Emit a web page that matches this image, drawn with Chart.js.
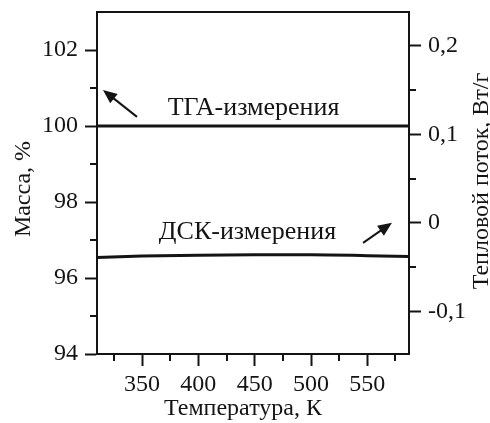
<!DOCTYPE html>
<html>
<head>
<meta charset="utf-8">
<script src="https://cdn.jsdelivr.net/npm/chart.js@4"></script>
<style>
html,body{margin:0;padding:0;background:#fff;}
canvas{display:block;}
</style>
</head>
<body>
<canvas id="c" width="490" height="423" style="width:490px;height:423px"></canvas>
<script>
// ---- data ----
const temperatures = [310, 350, 400, 450, 500, 550, 587];
const tgaMass      = [100, 100, 100, 100, 100, 100, 100];
const dscHeatFlow  = [-0.039, -0.0375, -0.0365, -0.036, -0.036, -0.037, -0.038];

const xTicks      = [350, 400, 450, 500, 550];
const xMinorTicks = [325, 375, 425, 475, 525, 575];
const massTicks      = [94, 96, 98, 100, 102];
const massMinorTicks = [95, 97, 99, 101];
const flowTicks      = [-0.1, 0, 0.1, 0.2];
const flowMinorTicks = [-0.05, 0.05, 0.15];

const xTitle = 'Температура, К';
const massTitle = 'Масса, %';
const flowTitle = 'Тепловой поток, Вт/г';
const tgaLabel = 'ТГА-измерения';
const dscLabel = 'ДСК-измерения';

// ---- drawing ----
const FONT = '"Liberation Serif", "Times New Roman", serif';
const INK = '#141414';

const tgaPoints = temperatures.map((t, i) => ({x: t, y: tgaMass[i]}));
const dscPoints = temperatures.map((t, i) => ({x: t, y: dscHeatFlow[i]}));

function fmtComma(v) {
  return String(Math.round(v * 1000) / 1000).replace('.', ',');
}

const decorPlugin = {
  id: 'decor',
  afterDraw(chart, args, opts) {
    const ctx = chart.ctx;
    const a = chart.chartArea;
    const sx = chart.scales.x, sy = chart.scales.y, sy2 = chart.scales.y2;
    ctx.save();
    ctx.strokeStyle = INK;
    ctx.fillStyle = INK;
    ctx.lineWidth = 2;
    // top border
    ctx.beginPath();
    ctx.moveTo(a.left - 1, a.top);
    ctx.lineTo(a.right + 1, a.top);
    ctx.stroke();
    // minor ticks
    const ml = opts.minorLen;
    ctx.beginPath();
    xMinorTicks.forEach(v => { const p = Math.round(sx.getPixelForValue(v)); ctx.moveTo(p, a.bottom); ctx.lineTo(p, a.bottom + ml); });
    massMinorTicks.forEach(v => { const p = Math.round(sy.getPixelForValue(v)); ctx.moveTo(a.left, p); ctx.lineTo(a.left - ml, p); });
    flowMinorTicks.forEach(v => { const p = Math.round(sy2.getPixelForValue(v)); ctx.moveTo(a.right, p); ctx.lineTo(a.right + ml, p); });
    ctx.stroke();
    // axis titles drawn by hand (right title reads bottom-to-top like the reference)
    ctx.font = opts.titleFont;
    ctx.textAlign = 'center';
    ctx.textBaseline = 'middle';
    ctx.fillText(xTitle, (a.left + a.right) / 2 + opts.xTitleShift, chart.height - opts.xTitleFromBottom);
    ctx.save();
    ctx.translate(chart.width - opts.rTitleFromRight, (a.top + a.bottom) / 2 + opts.rTitleShift);
    ctx.rotate(-Math.PI / 2);
    ctx.fillText(flowTitle, 0, 0);
    ctx.restore();
    ctx.save();
    ctx.translate(opts.lTitleFromLeft, (a.top + a.bottom) / 2 + opts.lTitleShift);
    ctx.rotate(-Math.PI / 2);
    ctx.fillText(massTitle, 0, 0);
    ctx.restore();
    // annotations text
    ctx.font = opts.labelFont;
    opts.labels.forEach(l => {
      const scale = chart.scales[l.axis];
      ctx.fillText(l.text, sx.getPixelForValue(l.x), scale.getPixelForValue(l.y));
    });
    // arrows
    opts.arrows.forEach(ar => {
      const scale = chart.scales[ar.axis];
      const x1 = sx.getPixelForValue(ar.x1), y1 = scale.getPixelForValue(ar.y1);
      const x2 = sx.getPixelForValue(ar.x2), y2 = scale.getPixelForValue(ar.y2);
      const ang = Math.atan2(y2 - y1, x2 - x1);
      const hl = opts.headLen, hw = opts.headHalf;
      const bx = x2 - hl * Math.cos(ang), by = y2 - hl * Math.sin(ang);
      ctx.lineWidth = 2;
      ctx.beginPath();
      ctx.moveTo(x1, y1);
      ctx.lineTo(bx + 2 * Math.cos(ang), by + 2 * Math.sin(ang));
      ctx.stroke();
      ctx.beginPath();
      ctx.moveTo(x2, y2);
      ctx.lineTo(bx + hw * Math.sin(ang), by - hw * Math.cos(ang));
      ctx.lineTo(bx - hw * Math.sin(ang), by + hw * Math.cos(ang));
      ctx.closePath();
      ctx.fill();
    });
    ctx.restore();
  }
};

const tickFont = {family: FONT, size: 24, lineHeight: 1};
function fitV(w) {
  return s => { s.width = w; s.paddingTop = 0; s.paddingBottom = 0; };
}

new Chart(document.getElementById('c'), {
  type: 'line',
  data: {
    datasets: [
      {label: tgaLabel, data: tgaPoints, yAxisID: 'y', borderColor: INK, borderWidth: 3, pointRadius: 0, tension: 0},
      {label: dscLabel, data: dscPoints, yAxisID: 'y2', borderColor: INK, borderWidth: 3, pointRadius: 0, cubicInterpolationMode: 'monotone'}
    ]
  },
  options: {
    responsive: false,
    animation: false,
    devicePixelRatio: 1,
    layout: {padding: {top: 12, left: 0, right: 0, bottom: 0}},
    plugins: {
      legend: {display: false},
      tooltip: {enabled: false},
      decor: {
        minorLen: 7,
        headLen: 14,
        headHalf: 6,
        titleFont: '24px ' + FONT,
        xTitleShift: -10,
        xTitleFromBottom: 14,
        rTitleFromRight: 8,
        rTitleShift: -2,
        lTitleFromLeft: 24,
        lTitleShift: 6,
        labelFont: '26px ' + FONT,
        labels: [
          {text: tgaLabel, x: 449, y: 100.47, axis: 'y'},
          {text: dscLabel, x: 443.6, y: -0.0104, axis: 'y2'}
        ],
        arrows: [
          {x1: 345.5, y1: 100.24, x2: 315.3, y2: 100.95, axis: 'y'},
          {x1: 546.2, y1: -0.0225, x2: 571.9, y2: 0.0, axis: 'y2'}
        ]
      }
    },
    scales: {
      x: {
        type: 'linear',
        min: 310, max: 587,
        afterBuildTicks: s => { s.ticks = xTicks.map(v => ({value: v})); },
        afterFit: s => { s.height = 69; s.paddingLeft = 0; s.paddingRight = 0; },
        grid: {drawOnChartArea: false, drawTicks: true, tickLength: 12, tickWidth: 2, tickColor: INK},
        border: {display: true, color: INK, width: 2},
        ticks: {color: INK, font: tickFont, padding: 7, maxRotation: 0, autoSkip: false},
        title: {display: false}
      },
      y: {
        type: 'linear',
        position: 'left',
        min: 94, max: 103,
        afterBuildTicks: s => { s.ticks = massTicks.map(v => ({value: v})); },
        afterFit: fitV(97),
        grid: {drawOnChartArea: false, drawTicks: true, tickLength: 12, tickWidth: 2, tickColor: INK},
        border: {display: true, color: INK, width: 2},
        ticks: {color: INK, font: tickFont, padding: 7, autoSkip: false},
        title: {display: false}
      },
      y2: {
        type: 'linear',
        position: 'right',
        min: -0.148, max: 0.238,
        afterBuildTicks: s => { s.ticks = flowTicks.map(v => ({value: v})); },
        afterFit: fitV(81),
        grid: {drawOnChartArea: false, drawTicks: true, tickLength: 12, tickWidth: 2, tickColor: INK},
        border: {display: true, color: INK, width: 2},
        ticks: {color: INK, font: tickFont, padding: 7, autoSkip: false, callback: v => fmtComma(v)},
        title: {display: false}
      }
    }
  },
  plugins: [decorPlugin]
});
</script>
</body>
</html>
